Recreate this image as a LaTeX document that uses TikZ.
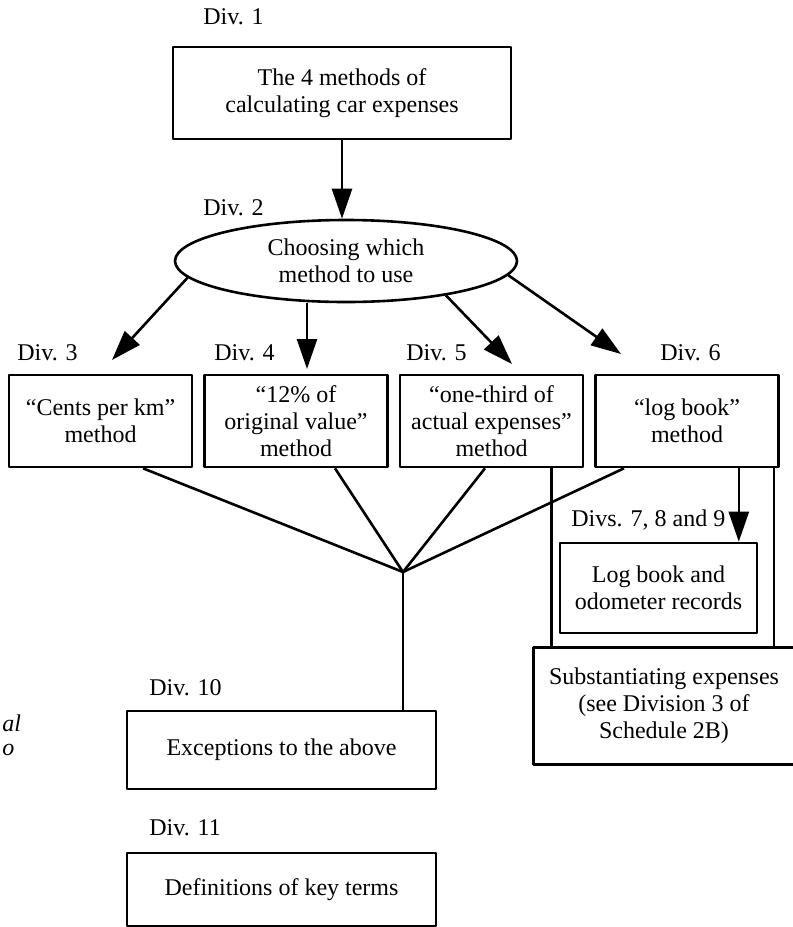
\documentclass[tikz,border=0pt]{standalone}
\usepackage{fontspec}
\setmainfont{Liberation Serif}
\usetikzlibrary{shapes.geometric,arrows.meta,calc}
\begin{document}
\begin{tikzpicture}[x=0.5pt,y=-0.5pt,line width=1.3pt,line join=round,>={Triangle[length=15pt,width=10pt]},font=\fontsize{12}{13.5}\selectfont]
		\tikzset{divbox/.style={draw,align=center,inner sep=0pt,minimum width=91.5pt,minimum height=46pt},
			divlabel/.style={anchor=west,inner sep=0pt},
			cutoff/.style={anchor=west,inner sep=0pt,font=\fontsize{12}{13.5}\selectfont\itshape}}
		\useasboundingbox (0,0) rectangle (793,927);
		% Div. 1 and Div. 2
		\node[divlabel] (l1) at (202,17) {Div. 1};
		\node[divbox,minimum width=169pt] (calc) at (342,93) {The 4 methods of\\calculating car expenses};
		\node[divlabel] (l2) at (202,208) {Div. 2};
		\node[draw,ellipse,align=center,inner sep=0pt,minimum width=171pt,minimum height=41pt] (choose) at (346,261) {Choosing which\\method to use};
		% the four methods
		\node[divlabel] (l3) at (16,353) {Div. 3};
		\node[divlabel] (l4) at (213,353) {Div. 4};
		\node[divlabel] (l5) at (405,353) {Div. 5};
		\node[divlabel] (l6) at (659,353) {Div. 6};
		\node[divbox] (cents) at (100.5,421) {“Cents per km”\\method};
		\node[divbox] (pct) at (296,421) {“12\% of\\original value”\\method};
		\node[divbox] (third) at (491.5,421) {“one-third of\\actual expenses”\\method};
		\node[divbox] (logm) at (687,421) {“log book”\\method};
		% records and substantiation
		\node[divlabel] (l7) at (570,520) {Divs. 7, 8 and 9};
		\node[divbox,minimum width=98.5pt,minimum height=45pt] (logbook) at (658.5,588) {Log book and\\odometer records};
		\node[align=center,inner sep=0pt,minimum width=129pt,minimum height=57pt] (subst) at (664,706) {Substantiating expenses\\(see Division 3 of\\Schedule 2B)};
		\draw (subst.north east) -- (subst.north west) -- (subst.south west) -- (subst.south east);
		% Div. 10 and Div. 11
		\node[divlabel] (l10) at (148,688) {Div. 10};
		\node[divbox,minimum width=154.5pt,minimum height=39pt] (except) at (281.5,750) {Exceptions to the above};
		\node[divlabel] (l11) at (148,828) {Div. 11};
		\node[divbox,minimum width=154.5pt,minimum height=36.5pt] (defs) at (281.5,889.5) {Definitions of key terms};
		\node[cutoff] (m1) at (1,723) {al};
		\node[cutoff] (m2) at (1,750) {o};
		% arrows
		\coordinate (t3) at (112,360);
		\coordinate (t4) at (307,369);
		\coordinate (t5) at (512,364);
		\coordinate (t6) at (621,354);
		\draw[->] (calc.south) -- (calc.south |- choose.north);
		\draw[->] (choose.186.5) -- (t3);
		\draw[->] (choose.south -| t4) -- (t4);
		\draw[->] (choose.341.9) -- (t5);
		\draw[->] (choose.355.4) -- (t6);
		% lines to Div. 10
		\coordinate (hub) at (403,572);
		\draw ($(cents.south)+(42.5,0)$) -- (hub);
		\draw ($(pct.south)+(39,0)$) -- (hub);
		\draw ($(third.south)+(-6.5,0)$) -- (hub);
		\draw ($(logm.south)+(-63,0)$) -- (hub);
		\draw (hub) -- (hub |- except.north);
		% lines to the substantiation box
		\coordinate (r5) at ($(third.south east)+(-33,0)$);
		\coordinate (r6) at ($(logm.south east)+(-6,0)$);
		\coordinate (a6) at ($(logm.south east)+(-41,0)$);
		\draw (r5) -- (r5 |- subst.north);
		\draw (r6) -- (r6 |- subst.north);
		\draw[->] (a6) -- (a6 |- logbook.north);
\end{tikzpicture}
\end{document}
